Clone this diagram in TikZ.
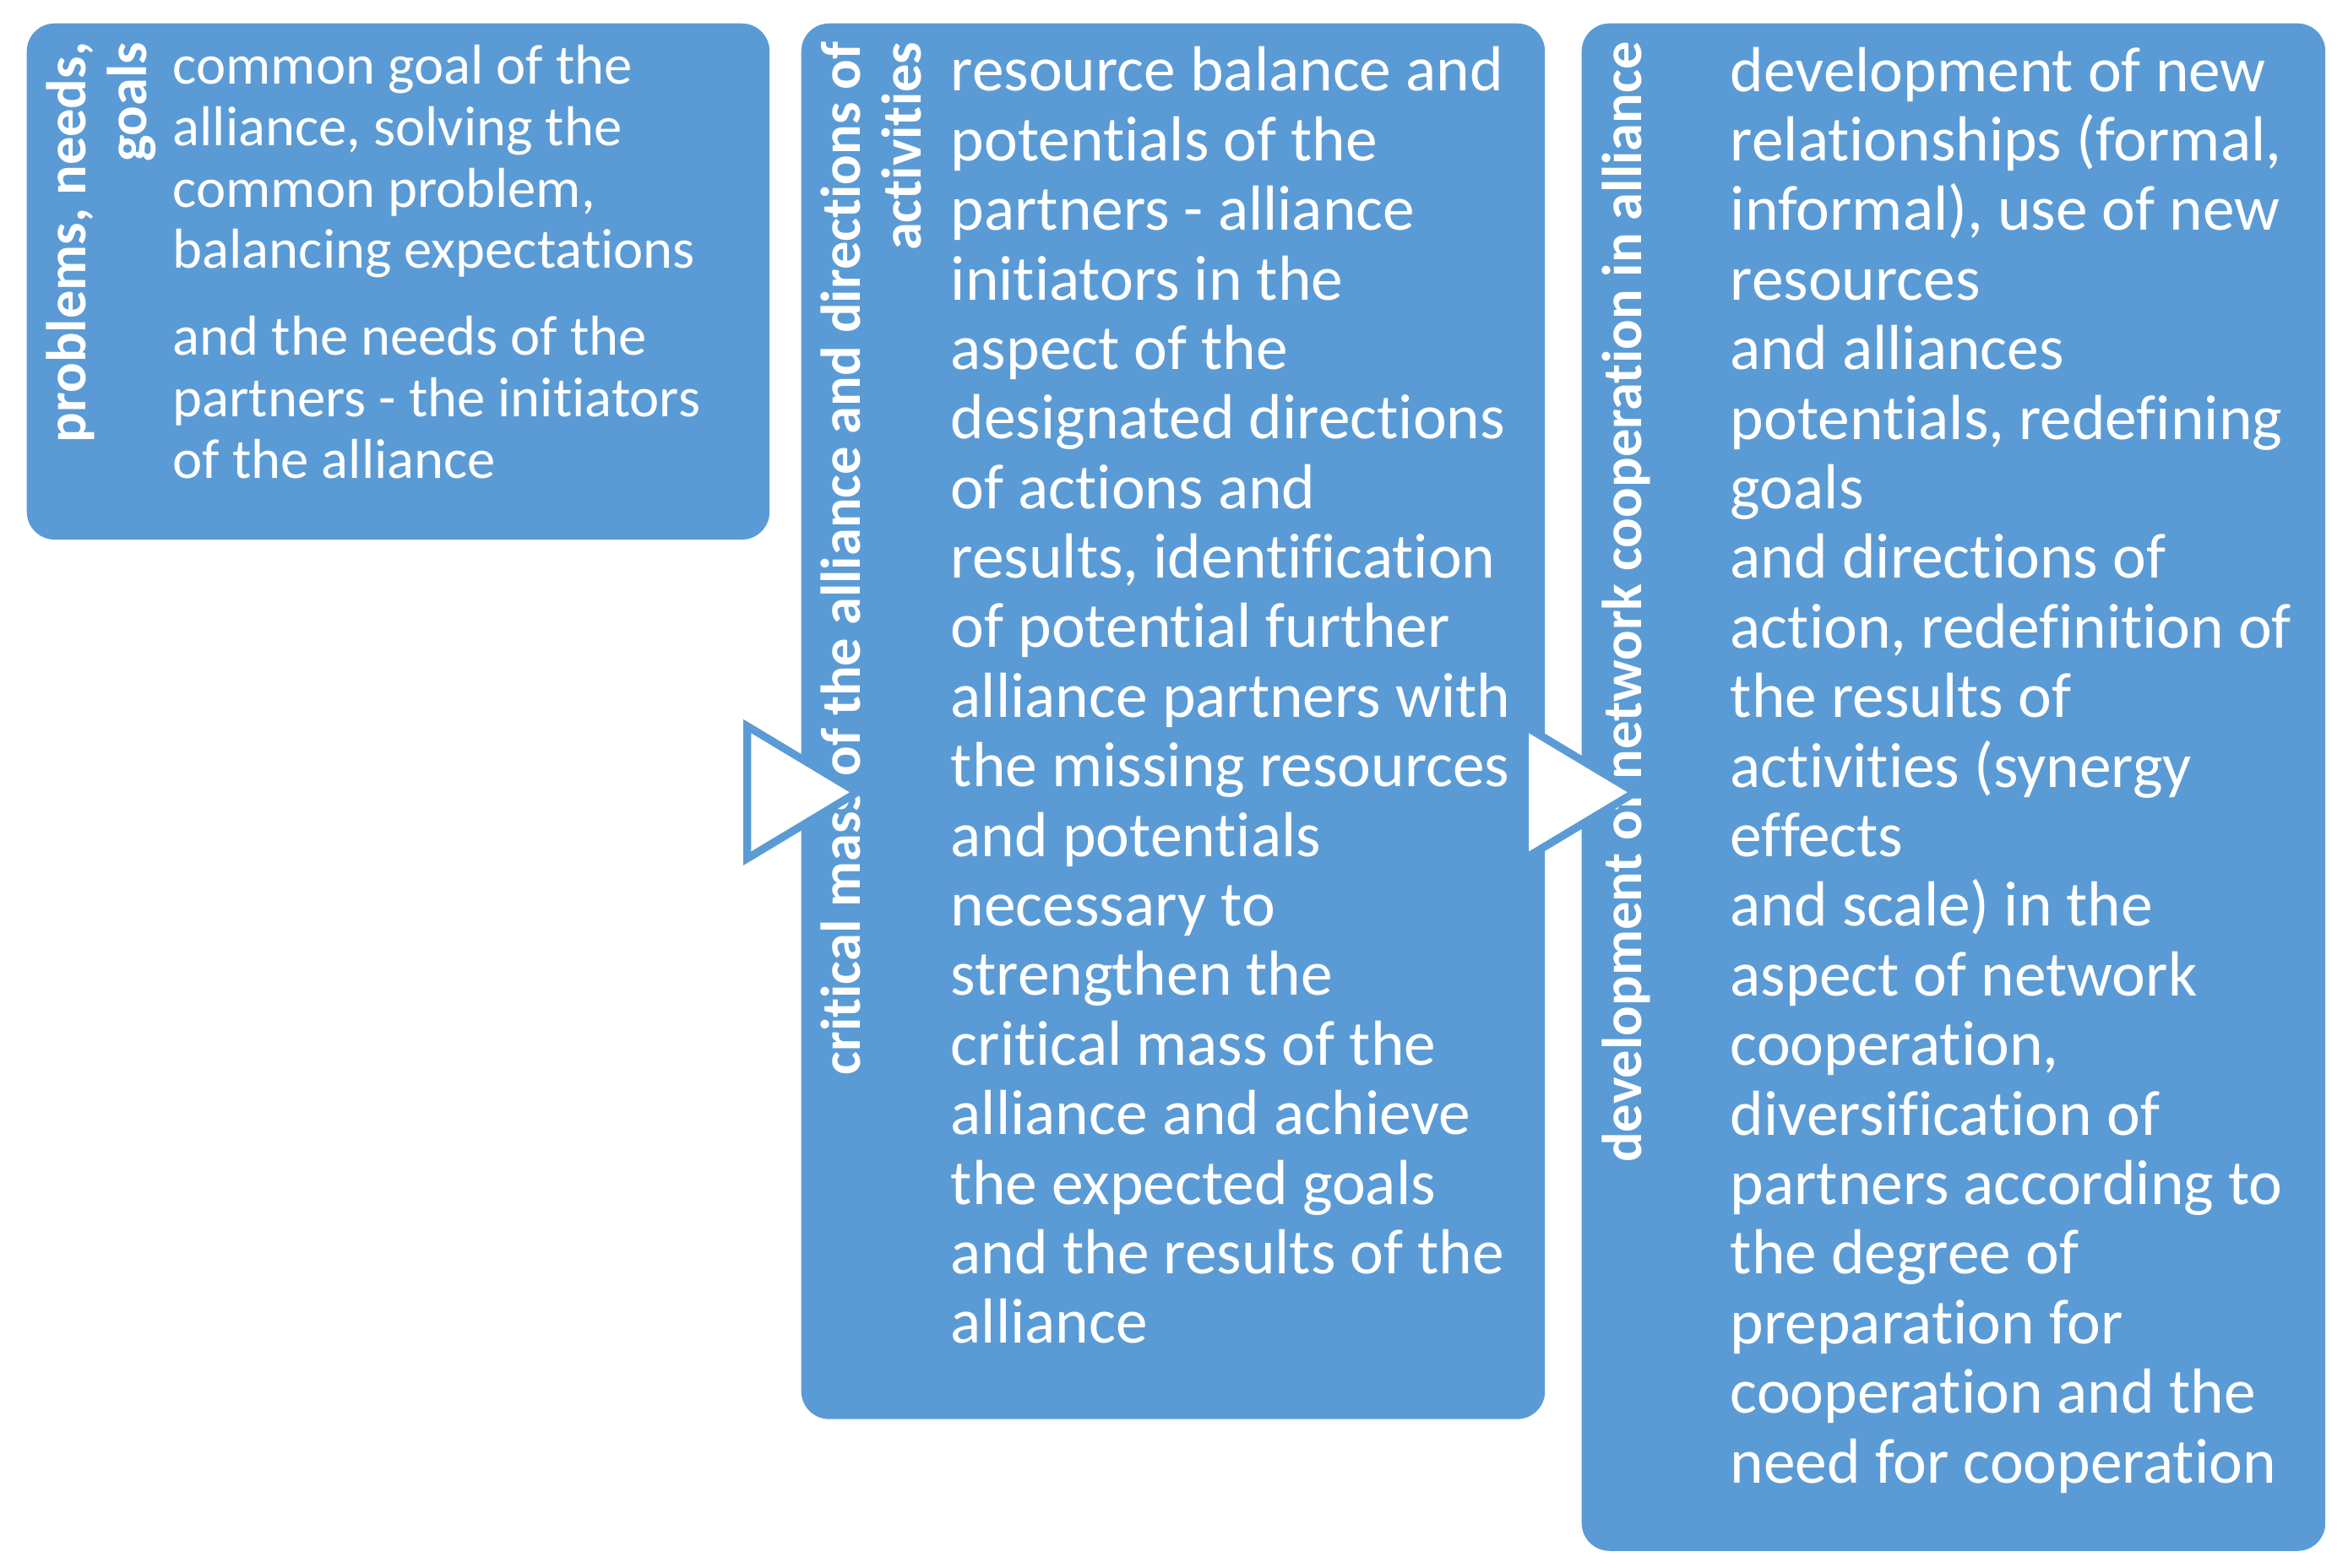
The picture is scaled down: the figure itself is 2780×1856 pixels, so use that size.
\documentclass[tikz,border=0pt]{standalone}
\usepackage{fontspec}
\setmainfont{Carlito}[Ligatures={NoCommon}]
\usetikzlibrary{positioning}
\definecolor{boxblue}{RGB}{91,155,213}
\tikzset{
  box/.style={
    fill=boxblue, draw=none,
    rounded corners=0.33cm,
    inner sep=0pt,
    anchor=north west,
  },
  % multi-line nodes sit on the baseline of their last line
  body/.style={
    text=white, align=left,
    inner sep=0pt, anchor=base west,
    font=\fontsize{21.45}{23.43}\selectfont
  },
  smallbody/.style={
    body,
    font=\fontsize{18.95}{20.69}\selectfont
  },
  vlabel/.style={
    text=white, align=right,
    rotate=90, inner sep=0pt, anchor=base east,
    font=\bfseries\fontsize{18.9}{20.49}\selectfont
  },
  chevron/.style={
    draw=boxblue, fill=white, line width=0.093cm, line join=miter
  }
}

\begin{document}
\begin{tikzpicture}[x=0.01cm, y=-0.01cm]
  \useasboundingbox (0,0) rectangle (2780,1856);
  % blocks
  \node[box, minimum width=8.79cm, minimum height=6.11cm] (goals) at (31,27) {};
  \node[box, minimum width=8.80cm, minimum height=16.52cm] (mass) at (948,27) {};
  \node[box, minimum width=8.80cm, minimum height=18.08cm] (network) at (1872,27) {};
  % rotated titles
  \node[vlabel] (goals-title) at ([xshift=1.42cm, yshift=-0.22cm]goals.north west) {problems, needs,\\goals};
  \node[vlabel] (mass-title) at ([xshift=1.42cm, yshift=-0.22cm]mass.north west) {critical mass of the alliance and directions of\\activities};
  \node[vlabel] (network-title) at ([xshift=0.71cm, yshift=-0.22cm]network.north west) {development of network cooperation in alliance};
  % texts
  \node[smallbody] (goals-text) at ([xshift=1.73cm, yshift=-5.39cm]goals.north west) {common goal of the\\alliance, solving the\\common problem,\\balancing expectations\\[8.6pt]and the needs of the\\partners - the initiators\\of the alliance};
  \node[body] (mass-text) at ([xshift=1.77cm, yshift=-15.63cm]mass.north west) {resource balance and\\potentials of the\\partners - alliance\\initiators in the\\aspect of the\\designated directions\\of actions and\\results, identification\\of potential further\\alliance partners with\\the missing resources\\and potentials\\necessary to\\strengthen the\\critical mass of the\\alliance and achieve\\the expected goals\\and the results of the\\alliance};
  \node[body] (network-text) at ([xshift=1.76cm, yshift=-17.28cm]network.north west) {development of new\\relationships (formal,\\informal), use of new\\resources\\and alliances\\potentials, redefining\\goals\\and directions of\\action, redefinition of\\the results of\\activities (synergy\\effects\\and scale) in the\\aspect of network\\cooperation,\\diversification of\\partners according to\\the degree of\\preparation for\\cooperation and the\\need for cooperation};
  % arrows between blocks
  \draw[chevron] (884.7,860) -- (1015,938.3) -- (884.7,1016.7) -- cycle;
  \draw[chevron] (1805.5,860) -- (1936,938.3) -- (1805.5,1016.7) -- cycle;
\end{tikzpicture}
\end{document}
